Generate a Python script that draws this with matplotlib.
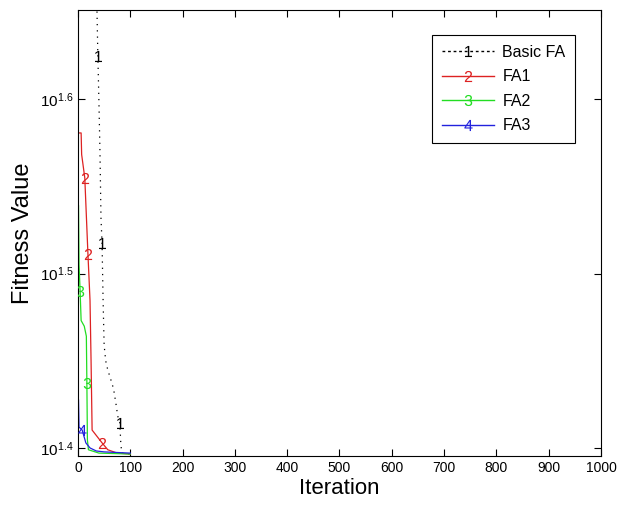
"""Fitness value vs iteration for Basic FA and three FA variants (log y axis)."""

import matplotlib

matplotlib.use("Agg")
import matplotlib.pyplot as plt
from matplotlib.lines import Line2D

plt.rcParams["font.family"] = ["Liberation Sans", "DejaVu Sans"]
plt.rcParams["mathtext.fontset"] = "custom"
plt.rcParams["mathtext.rm"] = "Liberation Sans"
plt.rcParams["mathtext.it"] = "Liberation Sans"
plt.rcParams["mathtext.default"] = "regular"

# Basic FA (dotted black)
basic_iter = [1, 30, 36, 38, 40, 42, 44, 46, 48, 50, 53, 57, 62, 68, 73, 76, 80, 82, 84, 100]
basic_fit = [79.4, 50.1, 45.2, 42.14, 39.71, 37.15, 34.0, 32.94, 30.52, 28.77,
             28.18, 27.84, 27.54, 27.16, 26.58, 26.2, 25.96, 25.22, 24.95, 24.92]
basic_marks = [3, 7, 16]

# FA1 (red)
fa1_iter = [1, 6, 7, 13, 19, 23, 25, 27, 38, 46, 57, 75, 100]
fa1_fit = [38.07, 38.07, 37.0, 35.88, 32.46, 30.52, 28.18, 25.72, 25.47, 25.29,
           25.06, 24.95, 24.92]
fa1_marks = [3, 4, 9]

# FA2 (green)
fa2_iter = [1, 2, 4, 6, 12, 16, 17, 18, 20, 40, 100]
fa2_fit = [34.58, 32.0, 30.92, 29.72, 29.5, 29.11, 27.36, 25.39, 25.06, 24.95, 24.92]
fa2_marks = [2, 6]

# FA3 (blue)
fa3_iter = [1, 2, 8, 15, 23, 35, 50, 100]
fa3_fit = [26.76, 25.82, 25.72, 25.29, 25.12, 25.02, 24.99, 24.95]
fa3_marks = [2]

series = [
    (basic_iter, basic_fit, basic_marks, "k", (0, (1, 4)), "1", "Basic FA"),
    (fa1_iter, fa1_fit, fa1_marks, "#dd2222", "-", "2", "FA1"),
    (fa2_iter, fa2_fit, fa2_marks, "#22dd22", "-", "3", "FA2"),
    (fa3_iter, fa3_fit, fa3_marks, "#2222dd", "-", "4", "FA3"),
]

fig = plt.figure(figsize=(6.17, 5.05), dpi=100)
ax = fig.add_axes([0.1264, 0.097, 0.8476, 0.883])

handles = []
for xs, ys, marks, color, ls, tag, label in series:
    ax.plot(xs, ys, color=color, linestyle=ls, linewidth=0.9, zorder=2)
    ax.plot([xs[i] for i in marks], [ys[i] for i in marks], linestyle="None",
            marker=f"${tag}$", markersize=8, color=color, markeredgewidth=0, zorder=3)
    handles.append(Line2D([0], [0], color=color, linestyle=ls if ls == "-" else (0, (2, 2)),
                          linewidth=1.0, marker=f"${tag}$", markersize=8,
                          markeredgewidth=0, label=label))

ax.set_yscale("log")
ax.set_xlim(0, 1000)
ax.set_ylim(10 ** 1.3954, 10 ** 1.651)
ax.set_xticks(range(0, 1001, 100))
ax.set_yticks([10 ** 1.4, 10 ** 1.5, 10 ** 1.6])
ax.set_yticklabels([r"$10^{1.4}$", r"$10^{1.5}$", r"$10^{1.6}$"])
ax.minorticks_off()
ax.tick_params(axis="both", which="both", direction="in", top=True, right=True,
               labelsize=10, length=5, width=0.8)
ax.tick_params(axis="y", labelsize=11)

for spine in ax.spines.values():
    spine.set_linewidth(0.8)

ax.set_xlabel("Iteration", fontsize=16, labelpad=2)
ax.set_ylabel("Fitness Value", fontsize=17, labelpad=4)

leg = ax.legend(handles=handles, loc="upper right", bbox_to_anchor=(0.9656, 0.962),
                fontsize=11.5, handlelength=3.3, labelspacing=0.6, numpoints=1,
                fancybox=False, framealpha=1, borderpad=0.6, handletextpad=0.5)
leg.get_frame().set_edgecolor("black")
leg.get_frame().set_linewidth(0.8)

fig.savefig("out.png", dpi=100)
plt.close(fig)
